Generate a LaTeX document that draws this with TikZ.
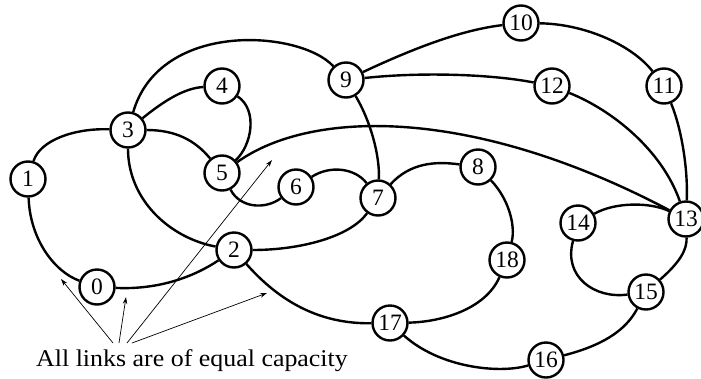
\documentclass[tikz,border=0pt]{standalone}
\usepackage{fontspec}
\setmainfont{Liberation Serif}
\usetikzlibrary{arrows.meta}
\begin{document}
\begin{tikzpicture}[x=1pt,y=-1pt,
  vtx/.style={circle,draw,line width=2.4pt,fill=white,minimum size=35pt,inner sep=0pt,
    font=\fontsize{23.5}{24}\selectfont},
  link/.style={line width=2.4pt},
  pointer/.style={line width=0.7pt,-{Stealth[length=7pt,width=4.5pt]}}]
\useasboundingbox (0,0) rectangle (701,378);
\node[vtx] (n0) at (97,287) {0};
\node[vtx] (n1) at (28,179) {1};
\node[vtx] (n2) at (234,250) {2};
\node[vtx] (n3) at (128,130) {3};
\node[vtx] (n4) at (222,86) {4};
\node[vtx] (n5) at (222,173) {5};
\node[vtx] (n6) at (296,187) {6};
\node[vtx] (n7) at (378,198) {7};
\node[vtx] (n8) at (478,167) {8};
\node[vtx] (n9) at (346,80) {9};
\node[vtx] (n10) at (521,23) {10};
\node[vtx] (n11) at (664,86) {11};
\node[vtx] (n12) at (552,86) {12};
\node[vtx] (n13) at (686,219) {13};
\node[vtx] (n14) at (578,223) {14};
\node[vtx] (n15) at (646,292) {15};
\node[vtx] (n16) at (546,360) {16};
\node[vtx] (n17) at (390,323) {17};
\node[vtx] (n18) at (507,260) {18};
% links
\draw[link] (n1) .. controls (40,140) and (75,128) .. (n3);
\draw[link] (n1) .. controls (30,240) and (55,272) .. (n0);
\draw[link] (n0) .. controls (160,290) and (195,276) .. (n2);
\draw[link] (n3) .. controls (165,100) and (185,88) .. (n4);
\draw[link] (n3) .. controls (160,20) and (300,30) .. (n9);
\draw[link] (n3) .. controls (175,130) and (195,140) .. (n5);
\draw[link] (n3) .. controls (128,200) and (170,238) .. (n2);
\draw[link] (n4) .. controls (258,110) and (252,145) .. (n5);
\draw[link] (n5) .. controls (310,110) and (470,105) .. (n13);
\draw[link] (n5) .. controls (240,208) and (265,210) .. (n6);
\draw[link] (n6) .. controls (330,165) and (355,168) .. (n7);
\draw[link] (n2) .. controls (300,250) and (350,237) .. (n7);
\draw[link] (n9) .. controls (370,120) and (380,155) .. (n7);
\draw[link] (n7) .. controls (410,163) and (435,161) .. (n8);
\draw[link] (n8) .. controls (508,198) and (516,225) .. (n18);
\draw[link] (n18) .. controls (485,310) and (440,322) .. (n17);
\draw[link] (n2) .. controls (280,302) and (320,324) .. (n17);
\draw[link] (n17) .. controls (440,368) and (500,374) .. (n16);
\draw[link] (n16) .. controls (600,346) and (625,332) .. (n15);
\draw[link] (n15) .. controls (680,262) and (687,250) .. (n13);
\draw[link] (n14) .. controls (615,202) and (650,202) .. (n13);
\draw[link] (n14) .. controls (563,277) and (595,299) .. (n15);
\draw[link] (n9) .. controls (410,50) and (460,30) .. (n10);
\draw[link] (n9) .. controls (420,72) and (490,74) .. (n12);
\draw[link] (n10) .. controls (585,24) and (632,45) .. (n11);
\draw[link] (n11) .. controls (682,130) and (688,170) .. (n13);
\draw[link] (n12) .. controls (612,110) and (662,150) .. (n13);
% caption and pointers
\node[anchor=base,inner sep=0pt,font=\fontsize{24}{24}\selectfont] (cap) at (192,366)
  {\scalebox{1.08}[1]{All links are of equal capacity}};
\coordinate (s1) at (113,343);
\coordinate (s2) at (119,343);
\coordinate (s3) at (127,343);
\coordinate (s4) at (132,343);
\coordinate (t1) at (61,279);
\coordinate (t2) at (126,297);
\coordinate (t3) at (272,160);
\coordinate (t4) at (267,293);
\draw[pointer] (s1) -- (t1);
\draw[pointer] (s2) -- (t2);
\draw[pointer] (s3) -- (t3);
\draw[pointer] (s4) -- (t4);
\end{tikzpicture}
\end{document}
